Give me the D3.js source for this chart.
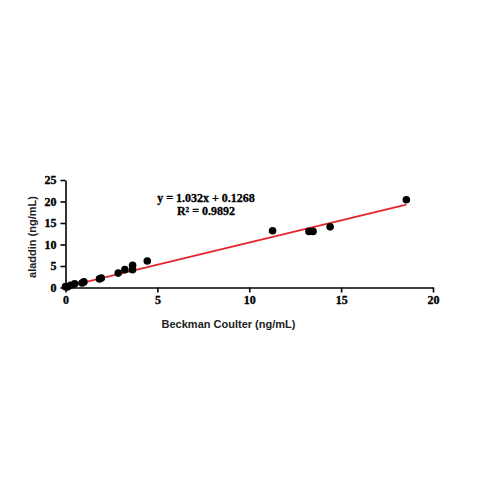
<!DOCTYPE html>
<html>
<head>
<meta charset="utf-8">
<script src="https://cdn.jsdelivr.net/npm/d3@7"></script>
<style>
  html, body { margin: 0; padding: 0; background: #fff; }
  #chart svg { display: block; }
  .tick text { font-family: "Liberation Serif", "DejaVu Serif", serif; font-weight: bold; font-size: 12px; fill: #000; stroke: #000; stroke-width: 0.35; }
  .domain, .tick line { stroke: #000; stroke-width: 1.6; }
</style>
</head>
<body>
<div id="chart"></div>
<script>
// Beckman Coulter (x) vs aladdin (y), ng/mL
const beckman = [0.0, 0.1, 0.27, 0.5, 0.9, 1.0, 1.85, 1.95, 2.87, 3.23, 3.65, 3.65, 4.45, 11.27, 13.25, 13.47, 14.4, 18.55];
const aladdin = [0.2, 0.1, 0.5, 0.85, 1.05, 1.3, 2.0, 2.2, 3.35, 4.15, 4.15, 5.15, 6.15, 13.2, 13.05, 13.05, 14.1, 20.4];

const xTicks = [0, 5, 10, 15, 20];
const yTicks = [0, 5, 10, 15, 20, 25];

const slope = 1.032;
const intercept = 0.1268;
const fitRange = [0, 18.55];
const equationLines = ['y = 1.032x + 0.1268', 'R² = 0.9892'];

function drawChart() {
    const width = 479;
    const height = 479;

    const svg = d3.select('#chart').append('svg')
        .attr('width', width)
        .attr('height', height);

    const xScale = d3.scaleLinear().domain([0, 20]).range([65.5, 433]);
    const yScale = d3.scaleLinear().domain([0, 25]).range([287.5, 180]);

    // axes
    svg.append('g')
        .attr('transform', `translate(0, ${yScale(0)})`)
        .call(d3.axisBottom(xScale).tickValues(xTicks).tickSize(5).tickPadding(3).tickSizeOuter(0));

    svg.append('g')
        .attr('transform', `translate(${xScale(0)}, 0)`)
        .call(d3.axisLeft(yScale).tickValues(yTicks).tickSize(5).tickPadding(4).tickSizeOuter(0));

    // regression line
    svg.append('line')
        .attr('x1', xScale(fitRange[0]))
        .attr('y1', yScale(slope * fitRange[0] + intercept))
        .attr('x2', xScale(fitRange[1]))
        .attr('y2', yScale(slope * fitRange[1] + intercept))
        .attr('stroke', '#e3262b')
        .attr('stroke-width', 1.8);

    // points
    const points = d3.zip(beckman, aladdin);
    svg.append('g')
        .selectAll('circle')
        .data(points)
        .join('circle')
        .attr('cx', (d) => xScale(d[0]))
        .attr('cy', (d) => yScale(d[1]))
        .attr('r', 3.8)
        .attr('fill', '#000');

    // equation
    svg.append('g')
        .selectAll('text')
        .data(equationLines)
        .join('text')
        .attr('x', 206)
        .attr('y', (d, i) => 201.5 + i * 13)
        .attr('text-anchor', 'middle')
        .style('font-family', '"Liberation Serif", serif')
        .style('font-weight', 'bold')
        .style('font-size', '12px')
        .style('stroke', '#000')
        .style('stroke-width', 0.3)
        .text((d) => d);

    // axis titles
    svg.append('text')
        .attr('x', 228.5)
        .attr('y', 327.5)
        .attr('text-anchor', 'middle')
        .style('font-family', '"Liberation Sans", Arial, sans-serif')
        .style('font-weight', 'bold')
        .style('font-size', '11px')
        .style('fill', '#222')
        .text('Beckman Coulter (ng/mL)');

    svg.append('text')
        .attr('transform', 'translate(35.5, 237) rotate(-90)')
        .attr('text-anchor', 'middle')
        .style('font-family', '"Liberation Sans", Arial, sans-serif')
        .style('font-weight', 'bold')
        .style('font-size', '11px')
        .style('fill', '#222')
        .text('aladdin (ng/mL)');
}

drawChart();
</script>
</body>
</html>
